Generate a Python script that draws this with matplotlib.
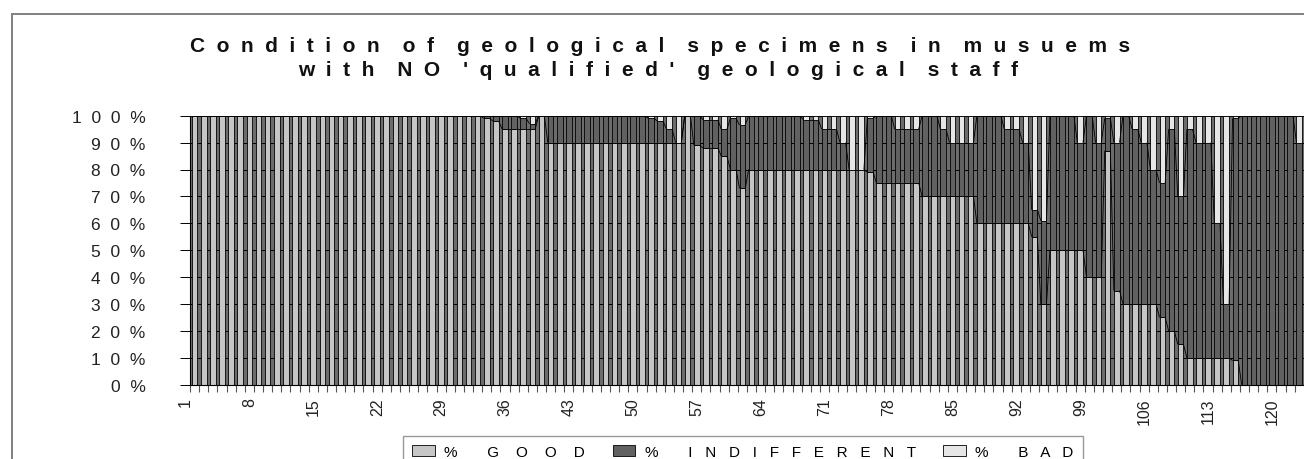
import matplotlib.pyplot as plt
import numpy as np
from matplotlib.patches import Rectangle
from matplotlib.collections import LineCollection
from matplotlib.transforms import ScaledTranslation

plt.rcParams['font.family'] = ['Liberation Sans', 'DejaVu Sans']

# museum number along the x axis
museum = np.arange(1, 123)

# percentage of specimens in each condition, per museum
good = [100, 100, 100, 100, 100, 100, 100, 100, 100, 100,
        100, 100, 100, 100, 100, 100, 100, 100, 100, 100,
        100, 100, 100, 100, 100, 100, 100, 100, 100, 100,
        100, 100, 99, 98, 95, 95, 95, 95, 100, 90,
        90, 90, 90, 90, 90, 90, 90, 90, 90, 90,
        90, 90, 90, 90, 100, 89, 88, 88, 85, 80,
        73, 80, 80, 80, 80, 80, 80, 80, 80, 80,
        80, 80, 80, 80, 79, 75, 75, 75, 75, 75,
        70, 70, 70, 70, 70, 70, 60, 60, 60, 60,
        60, 60, 55, 30, 50, 50, 50, 50, 40, 40,
        87, 35, 30, 30, 30, 30, 25, 20, 15, 10,
        10, 10, 10, 10, 9, 0, 0, 0, 0, 0,
        0, 0]
indifferent = [0, 0, 0, 0, 0, 0, 0, 0, 0, 0,
               0, 0, 0, 0, 0, 0, 0, 0, 0, 0,
               0, 0, 0, 0, 0, 0, 0, 0, 0, 0,
               0, 0, 1, 2, 5, 5, 4, 2, 0, 10,
               10, 10, 10, 10, 10, 10, 10, 10, 10, 10,
               9, 8, 5, 0, 0, 11, 10.5, 10.5, 10, 19,
               23.5, 20, 20, 20, 20, 20, 20, 18.5, 18.5, 15,
               15, 10, 0, 0, 20, 25, 25, 20, 20, 20,
               30, 30, 25, 20, 20, 20, 40, 40, 40, 35,
               35, 30, 10, 31, 50, 50, 50, 40, 60, 50,
               12, 55, 70, 65, 60, 50, 50, 75, 55, 85,
               80, 80, 50, 20, 90, 100, 100, 100, 100, 100,
               100, 90]
bad = [0, 0, 0, 0, 0, 0, 0, 0, 0, 0,
       0, 0, 0, 0, 0, 0, 0, 0, 0, 0,
       0, 0, 0, 0, 0, 0, 0, 0, 0, 0,
       0, 0, 0, 0, 0, 0, 1, 3, 0, 0,
       0, 0, 0, 0, 0, 0, 0, 0, 0, 0,
       1, 2, 5, 10, 0, 0, 1.5, 1.5, 5, 1,
       3.5, 0, 0, 0, 0, 0, 0, 1.5, 1.5, 5,
       5, 10, 20, 20, 1, 0, 0, 5, 5, 5,
       0, 0, 5, 10, 10, 10, 0, 0, 0, 5,
       5, 10, 35, 39, 0, 0, 0, 10, 0, 10,
       1, 10, 0, 5, 10, 20, 25, 5, 30, 5,
       10, 10, 40, 70, 1, 0, 0, 0, 0, 0,
       0, 10]

series_names = ['GOOD', 'INDIFFERENT', 'BAD']
series_colours = ['#c6c6c6', '#616161', '#e6e6e6']
x_labels = museum[::7]


def spread(text, gap='  ', word_gap='    '):
    return word_gap.join(gap.join(word) for word in text.split(' '))


W, H = 1304, 460
fig = plt.figure(figsize=(W / 100, H / 100), dpi=100)

# outer chart frame (runs off the right and bottom edge)
fig.add_artist(Rectangle((12 / W, -0.2), 2, 1 - 15 / H + 0.2, transform=fig.transFigure,
                         fill=False, edgecolor='#808080', linewidth=1.4))

fig.text(660 / W, 1 - 46 / H, spread('Condition of geological specimens in musuems'),
         ha='center', va='center', fontsize=15, fontweight='bold', color='#111111')
fig.text(658 / W, 1 - 71 / H, spread("with NO 'qualified' geological staff"),
         ha='center', va='center', fontsize=15, fontweight='bold', color='#111111')

ax = fig.add_axes([190 / W, 1 - 385.7 / H, 1114 / W, 269 / H])
ax.set_facecolor('#6c6c6c')
ax.set_axisbelow(True)

width = 0.62
bottom = np.zeros(len(museum))
handles = []
for values, colour in zip([good, indifferent, bad], series_colours):
    bars = ax.bar(museum, values, width, bottom=bottom, color=colour,
                  edgecolor='black', linewidth=0.6)
    handles.append(bars)
    bottom = bottom + np.array(values)

# series lines joining the stack boundaries of neighbouring bars
segs = []
for level in [np.array(good, float), np.array(good, float) + np.array(indifferent)]:
    for i in range(len(museum) - 1):
        segs.append([(museum[i] + width / 2, level[i]), (museum[i + 1] - width / 2, level[i + 1])])
ax.add_collection(LineCollection(segs, colors='black', linewidths=0.6))

ax.set_xlim(0.5, 0.5 + 1114 / 9.13)
ax.set_ylim(0, 100)

ax.set_yticks(np.arange(0, 101, 10))
ax.set_yticklabels([spread(f'{v}%') for v in range(0, 101, 10)])
ax.yaxis.grid(True, color='black', linewidth=0.7)
ax.tick_params(axis='y', length=7, width=0.7, pad=25, labelsize=12.5, labelcolor='#222222')

ax.set_xticks(np.arange(0.5, len(museum) + 0.5, 1))
ax.set_xticklabels([])
ax.tick_params(axis='x', which='major', length=5, width=0.8, color='#555555')
ax.set_xticks(x_labels, [str(v) for v in x_labels], minor=True)
ax.tick_params(axis='x', which='minor', length=0, pad=9, labelsize=11.5,
               labelcolor='#222222', labelrotation=90)
shift = ScaledTranslation(-0.09, 0, fig.dpi_scale_trans)
for lab in ax.get_xticklabels(minor=True):
    lab.set_transform(lab.get_transform() + shift)

for side in ['top', 'right']:
    ax.spines[side].set_visible(False)
ax.spines['left'].set_linewidth(0.8)
ax.spines['bottom'].set_linewidth(0.8)

labels = ['%' + ' ' * 7 + spread('GOOD', '    '),
          '%' + ' ' * 7 + spread('INDIFFERENT', '   '),
          '%' + ' ' * 7 + spread('BAD', '   ')]
fig.legend(handles, labels, loc='upper left', bbox_to_anchor=(403 / W, 1 - 437 / H),
           ncol=3, fontsize=11, frameon=True, fancybox=False, framealpha=1,
           edgecolor='#999999', handlelength=1.5, handleheight=0.7, handletextpad=0.6,
           columnspacing=1.8, borderpad=0.6, borderaxespad=0)

fig.savefig('out.png', dpi=100)
